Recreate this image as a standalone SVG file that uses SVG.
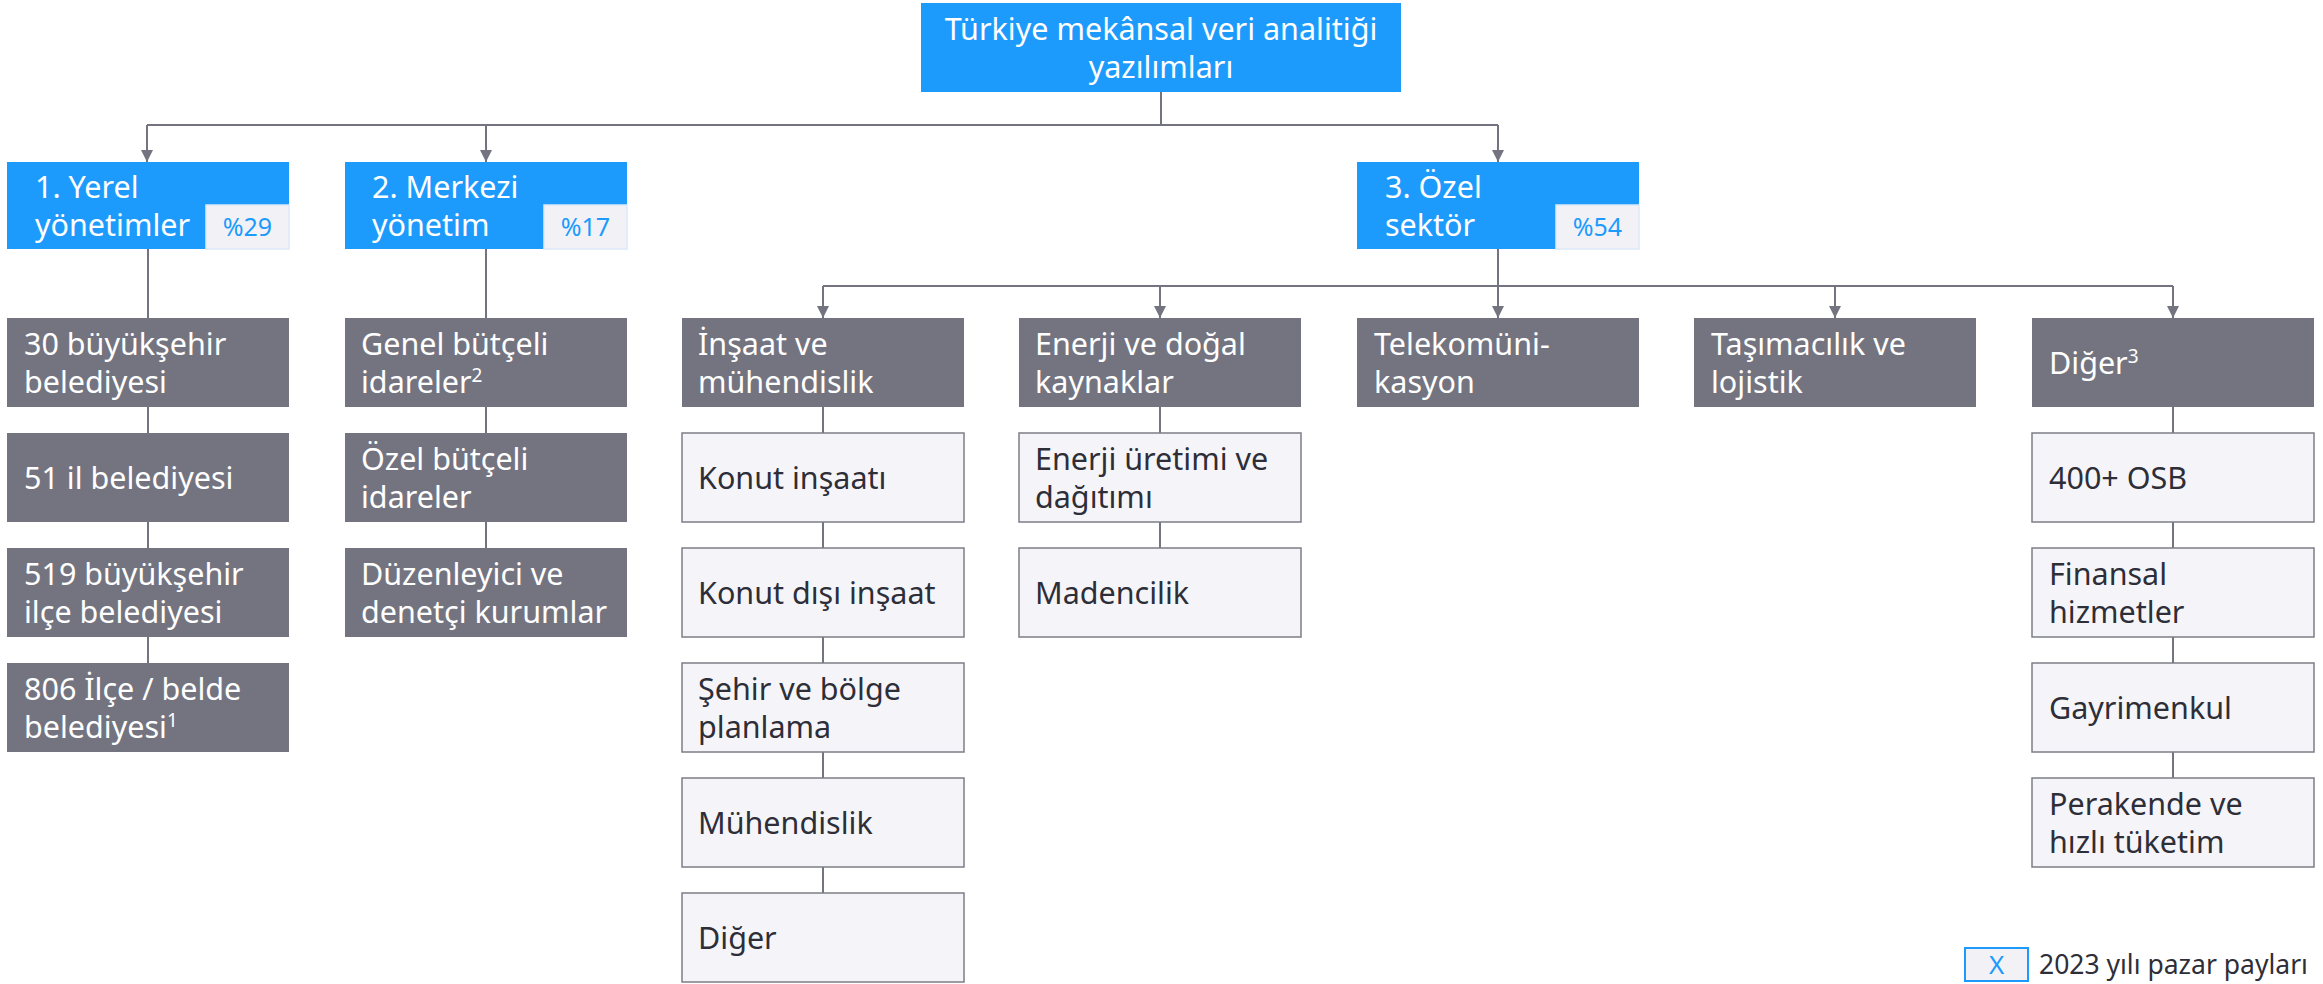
<svg xmlns="http://www.w3.org/2000/svg" width="2323" height="984" viewBox="0 0 2323 984">
<style>
.bl{fill:#1D9BFC}
.dk{fill:#747480}
.lt{fill:#F5F5F9;stroke:#7D7D87;stroke-width:1.5}
.bd{fill:#F2F2F6;stroke:#DCE9F7;stroke-width:1.5}
.lg{fill:#F2F2F6;stroke:#1D9BFC;stroke-width:2}
text{font-family:"Noto Sans","Liberation Sans",sans-serif;font-size:30.5px}
.w{fill:#FFFFFF}
.k{fill:#2E2E38}
.b{fill:#1D9BFC;font-size:25px}
.c{text-anchor:middle}
.sup{font-size:19px}
.conn line{stroke:#747480;stroke-width:2;fill:none}
</style>
<defs>
<marker id="ah" markerUnits="userSpaceOnUse" markerWidth="12" markerHeight="12" viewBox="0 0 10 10" refX="10" refY="5" orient="auto">
<path d="M0,0 L10,5 L0,10 z" fill="#747480"/>
</marker>
</defs>

<g class="conn">
<line x1="1161" y1="92" x2="1161" y2="125"/>
<line x1="147" y1="125" x2="1498" y2="125"/>
<line x1="147" y1="125" x2="147" y2="162" marker-end="url(#ah)"/>
<line x1="486" y1="125" x2="486" y2="162" marker-end="url(#ah)"/>
<line x1="1498" y1="125" x2="1498" y2="162" marker-end="url(#ah)"/>
<line x1="148" y1="249" x2="148" y2="318"/>
<line x1="148" y1="407" x2="148" y2="433"/>
<line x1="148" y1="522" x2="148" y2="548"/>
<line x1="148" y1="637" x2="148" y2="663"/>
<line x1="486" y1="249" x2="486" y2="318"/>
<line x1="486" y1="407" x2="486" y2="433"/>
<line x1="486" y1="522" x2="486" y2="548"/>
<line x1="1498" y1="249" x2="1498" y2="318" marker-end="url(#ah)"/>
<line x1="823" y1="286" x2="2173" y2="286"/>
<line x1="823" y1="286" x2="823" y2="318" marker-end="url(#ah)"/>
<line x1="1160" y1="286" x2="1160" y2="318" marker-end="url(#ah)"/>
<line x1="1835" y1="286" x2="1835" y2="318" marker-end="url(#ah)"/>
<line x1="2173" y1="286" x2="2173" y2="318" marker-end="url(#ah)"/>
<line x1="823" y1="407" x2="823" y2="433"/>
<line x1="823" y1="522" x2="823" y2="548"/>
<line x1="823" y1="637" x2="823" y2="663"/>
<line x1="823" y1="752" x2="823" y2="778"/>
<line x1="823" y1="867" x2="823" y2="893"/>
<line x1="1160" y1="407" x2="1160" y2="433"/>
<line x1="1160" y1="522" x2="1160" y2="548"/>
<line x1="2173" y1="407" x2="2173" y2="433"/>
<line x1="2173" y1="522" x2="2173" y2="548"/>
<line x1="2173" y1="637" x2="2173" y2="663"/>
<line x1="2173" y1="752" x2="2173" y2="778"/>
</g>

<g id="root">
<rect class="bl" x="921" y="3" width="480" height="89"/>
<text class="w c" x="1161" y="39.5">Türkiye mekânsal veri analitiği</text>
<text class="w c" x="1161" y="77.5">yazılımları</text>
</g>

<g id="yerel">
<rect class="bl" x="7" y="162" width="282" height="87"/>
<text class="w" x="35" y="197.5">1. Yerel</text>
<text class="w" x="35" y="235.5">yönetimler</text>
<rect class="bd" x="206" y="205" width="83" height="44"/>
<text class="b c" x="247.5" y="236">%29</text>
</g>
<g id="merkezi">
<rect class="bl" x="345" y="162" width="282" height="87"/>
<text class="w" x="372" y="197.5">2. Merkezi</text>
<text class="w" x="372" y="235.5">yönetim</text>
<rect class="bd" x="544" y="205" width="83" height="44"/>
<text class="b c" x="585.5" y="236">%17</text>
</g>
<g id="ozel">
<rect class="bl" x="1357" y="162" width="282" height="87"/>
<text class="w" x="1385" y="197.5">3. Özel</text>
<text class="w" x="1385" y="235.5">sektör</text>
<rect class="bd" x="1556" y="205" width="83" height="44"/>
<text class="b c" x="1597.5" y="236">%54</text>
</g>

<g id="buyuksehir">
<rect class="dk" x="7" y="318" width="282" height="89"/>
<text class="w" x="24" y="355">30 büyükşehir</text>
<text class="w" x="24" y="393">belediyesi</text>
</g>
<g id="il">
<rect class="dk" x="7" y="433" width="282" height="89"/>
<text class="w" x="24" y="488.5">51 il belediyesi</text>
</g>
<g id="buyuksehir-ilce">
<rect class="dk" x="7" y="548" width="282" height="89"/>
<text class="w" x="24" y="585">519 büyükşehir</text>
<text class="w" x="24" y="623">ilçe belediyesi</text>
</g>
<g id="ilce-belde">
<rect class="dk" x="7" y="663" width="282" height="89"/>
<text class="w" x="24" y="700">806 İlçe / belde</text>
<text class="w" x="24" y="738">belediyesi<tspan class="sup" dy="-11">1</tspan></text>
</g>

<g id="genel-butceli">
<rect class="dk" x="345" y="318" width="282" height="89"/>
<text class="w" x="361" y="355">Genel bütçeli</text>
<text class="w" x="361" y="393">idareler<tspan class="sup" dy="-11">2</tspan></text>
</g>
<g id="ozel-butceli">
<rect class="dk" x="345" y="433" width="282" height="89"/>
<text class="w" x="361" y="470">Özel bütçeli</text>
<text class="w" x="361" y="508">idareler</text>
</g>
<g id="duzenleyici">
<rect class="dk" x="345" y="548" width="282" height="89"/>
<text class="w" x="361" y="585">Düzenleyici ve</text>
<text class="w" x="361" y="623">denetçi kurumlar</text>
</g>

<g id="insaat">
<rect class="dk" x="682" y="318" width="282" height="89"/>
<text class="w" x="698" y="355">İnşaat ve</text>
<text class="w" x="698" y="393">mühendislik</text>
</g>
<g id="konut">
<rect class="lt" x="682" y="433" width="282" height="89"/>
<text class="k" x="698" y="488.5">Konut inşaatı</text>
</g>
<g id="konut-disi">
<rect class="lt" x="682" y="548" width="282" height="89"/>
<text class="k" x="698" y="603.5">Konut dışı inşaat</text>
</g>
<g id="sehir">
<rect class="lt" x="682" y="663" width="282" height="89"/>
<text class="k" x="698" y="700">Şehir ve bölge</text>
<text class="k" x="698" y="738">planlama</text>
</g>
<g id="muhendislik">
<rect class="lt" x="682" y="778" width="282" height="89"/>
<text class="k" x="698" y="833.5">Mühendislik</text>
</g>
<g id="insaat-diger">
<rect class="lt" x="682" y="893" width="282" height="89"/>
<text class="k" x="698" y="948.5">Diğer</text>
</g>

<g id="enerji">
<rect class="dk" x="1019" y="318" width="282" height="89"/>
<text class="w" x="1035" y="355">Enerji ve doğal</text>
<text class="w" x="1035" y="393">kaynaklar</text>
</g>
<g id="enerji-uretimi">
<rect class="lt" x="1019" y="433" width="282" height="89"/>
<text class="k" x="1035" y="470">Enerji üretimi ve</text>
<text class="k" x="1035" y="508">dağıtımı</text>
</g>
<g id="madencilik">
<rect class="lt" x="1019" y="548" width="282" height="89"/>
<text class="k" x="1035" y="603.5">Madencilik</text>
</g>

<g id="telekom">
<rect class="dk" x="1357" y="318" width="282" height="89"/>
<text class="w" x="1374" y="355">Telekomüni-</text>
<text class="w" x="1374" y="393">kasyon</text>
</g>
<g id="tasimacilik">
<rect class="dk" x="1694" y="318" width="282" height="89"/>
<text class="w" x="1711" y="355">Taşımacılık ve</text>
<text class="w" x="1711" y="393">lojistik</text>
</g>

<g id="diger">
<rect class="dk" x="2032" y="318" width="282" height="89"/>
<text class="w" x="2049" y="373.5">Diğer<tspan class="sup" dy="-11">3</tspan></text>
</g>
<g id="osb">
<rect class="lt" x="2032" y="433" width="282" height="89"/>
<text class="k" x="2049" y="488.5">400+ OSB</text>
</g>
<g id="finansal">
<rect class="lt" x="2032" y="548" width="282" height="89"/>
<text class="k" x="2049" y="585">Finansal</text>
<text class="k" x="2049" y="623">hizmetler</text>
</g>
<g id="gayrimenkul">
<rect class="lt" x="2032" y="663" width="282" height="89"/>
<text class="k" x="2049" y="718.5">Gayrimenkul</text>
</g>
<g id="perakende">
<rect class="lt" x="2032" y="778" width="282" height="89"/>
<text class="k" x="2049" y="815">Perakende ve</text>
<text class="k" x="2049" y="853">hızlı tüketim</text>
</g>

<g id="legend">
<rect class="lg" x="1965" y="948" width="63" height="33"/>
<text class="b c" x="1996.5" y="974" style="font-size:26px">X</text>
<text class="k" x="2039" y="974" style="font-size:26.5px">2023 yılı pazar payları</text>
</g>
</svg>
